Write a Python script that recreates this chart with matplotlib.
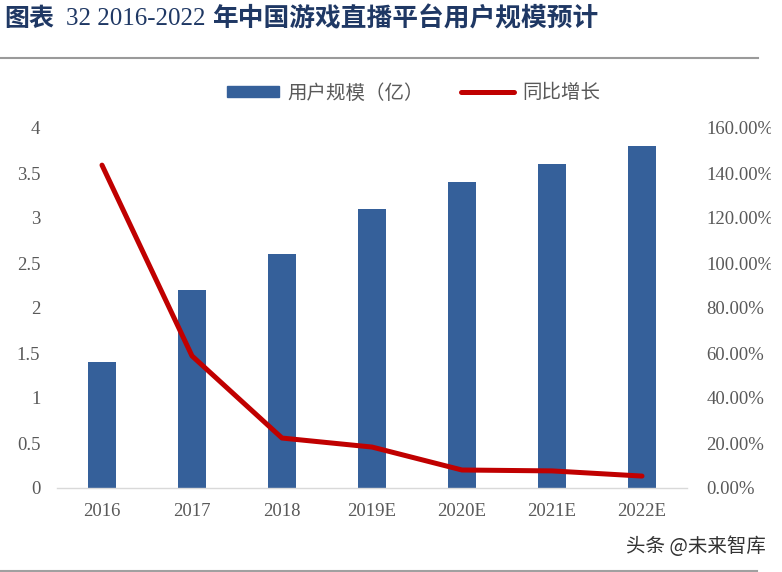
import matplotlib
matplotlib.use("Agg")
import matplotlib.pyplot as plt
from matplotlib.patches import Rectangle
from matplotlib.lines import Line2D
from matplotlib.ticker import FuncFormatter, MultipleLocator

categories = ["2016", "2017", "2018", "2019E", "2020E", "2021E", "2022E"]
users = [1.4, 2.2, 2.6, 3.1, 3.4, 3.6, 3.8]
growth = [143.5, 58.7, 22.2, 18.2, 8.0, 7.6, 5.3]
bar_label = "用户规模（亿）"
line_label = "同比增长"

W, H = 782, 572
fig = plt.figure(figsize=(W / 100, H / 100), dpi=100)

def fx(px):
    return px / W

def fy(py):
    return 1 - py / H

ax = fig.add_axes([fx(57), fy(488), 630 / W, 360 / H])
ax2 = ax.twinx()

xs = list(range(len(categories)))
bar_color = "#35609A"
line_color = "#C00000"
tick_color = "#595959"

ax.bar(xs, users, width=0.315, color=bar_color, zorder=2)
ax2.plot(xs, growth, color=line_color, linewidth=3.6, solid_capstyle="round",
         solid_joinstyle="round", zorder=3)

ax.set_xlim(-0.5, len(categories) - 0.5)
ax.set_ylim(0, 4)
ax2.set_ylim(0, 160)
ax.yaxis.set_major_locator(MultipleLocator(0.5))
ax2.yaxis.set_major_locator(MultipleLocator(20))
ax.yaxis.set_major_formatter(FuncFormatter(lambda v, p: f"{v:g}"))
ax2.yaxis.set_major_formatter(FuncFormatter(lambda v, p: f"{v:.2f}%"))
ax.set_xticks(xs)
ax.set_xticklabels(categories)

for a in (ax, ax2):
    for s in ("top", "left", "right", "bottom"):
        a.spines[s].set_visible(False)
    a.patch.set_visible(False)
ax.spines["bottom"].set_visible(True)
ax.spines["bottom"].set_color("#D9D9D9")
ax.spines["bottom"].set_linewidth(1.0)

serif = ["Liberation Serif", "DejaVu Serif"]
ax.tick_params(axis="y", length=0, pad=12, labelsize=13.5, labelcolor=tick_color)
ax.tick_params(axis="x", length=0, pad=11, labelsize=13.5, labelcolor=tick_color)
ax2.tick_params(axis="y", length=0, pad=14, labelsize=13.5, labelcolor=tick_color)
for lab in ax.get_xticklabels() + ax.get_yticklabels() + ax2.get_yticklabels():
    lab.set_family(serif)

# Legend
cjk = ["Noto Sans CJK SC", "DejaVu Sans"]
handles = [Rectangle((0, 0), 1, 1, color=bar_color),
           Line2D([0], [0], color=line_color, linewidth=3.6, solid_capstyle="round")]
leg = fig.legend(handles, [bar_label, line_label], loc="center",
                 bbox_to_anchor=(fx(413.5), fy(93)), ncol=2, frameon=False,
                 handlelength=2.7, handleheight=0.46, handletextpad=0.45,
                 columnspacing=1.9, prop={"family": cjk, "size": 14})
for t in leg.get_texts():
    t.set_color(tick_color)

# Title
title_color = "#1F3864"
fig.text(fx(4), fy(19), "图表", family=cjk, fontweight="bold", fontsize=18,
         color=title_color, va="center", ha="left")
fig.text(fx(66), fy(19), "32 2016-2022", family=serif, fontsize=18,
         color=title_color, va="center", ha="left")
fig.text(fx(212), fy(19), "年中国游戏直播平台用户规模预计", family=cjk,
         fontweight="bold", fontsize=18.5, color=title_color, va="center", ha="left")

# Rules
fig.add_artist(Line2D([0, fx(758)], [fy(58), fy(58)], color="#9A9A9A", linewidth=1.5))
fig.add_artist(Line2D([0, fx(757)], [fy(571), fy(571)], color="#A0A0A0", linewidth=1.5))

# Watermark
fig.text(fx(766), fy(546), "头条 @未来智库", family=cjk, fontsize=14,
         color="#333333", va="center", ha="right")

# Clip of right labels at image edge
fig.add_artist(Rectangle((fx(771), fy(290)), fx(W) - fx(771), (290 - 110) / H,
                         transform=fig.transFigure, color="white", zorder=10))

fig.savefig("out.png", dpi=100)
